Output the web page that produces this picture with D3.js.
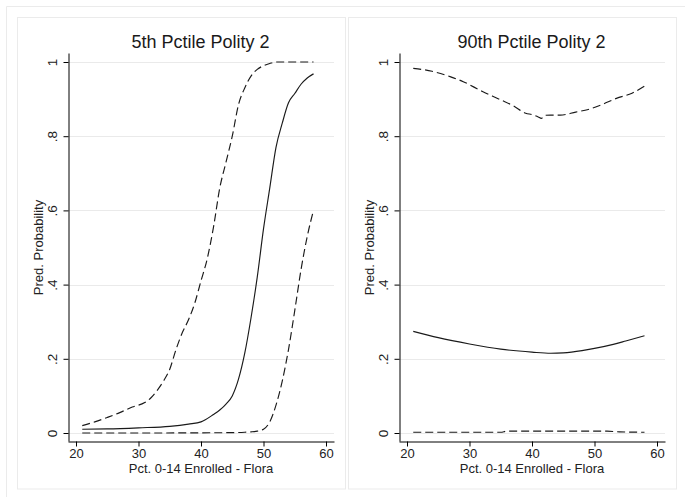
<!DOCTYPE html>
<html>
<head>
<meta charset="utf-8">
<script src="https://cdn.jsdelivr.net/npm/d3@7"></script>
<style>
html,body{margin:0;padding:0;background:#fff;}
svg{display:block;font-family:"Liberation Sans",Arial,sans-serif;}
</style>
</head>
<body>
<svg id="chart" width="685" height="497"></svg>
<script>
// ---- Data ----
const panelTitles = ["5th Pctile Polity 2", "90th Pctile Polity 2"];
const xTicks = [20, 30, 40, 50, 60];
const yTicks = [0, 0.2, 0.4, 0.6, 0.8, 1];
const yTickLabels = ["0", ".2", ".4", ".6", ".8", "1"];
const xLabel = "Pct. 0-14 Enrolled - Flora";
const yLabel = "Pred. Probability";

// Left panel (5th percentile)
const leftX =     [21, 25, 30, 35, 38, 40, 42, 43, 44, 45, 46, 47, 48, 49, 50, 51, 52, 53, 54, 55, 56, 57, 58];
const leftPred =  [0.010, 0.011, 0.014, 0.018, 0.024, 0.030, 0.050, 0.062, 0.078, 0.100, 0.145, 0.215, 0.310, 0.420, 0.550, 0.660, 0.770, 0.835, 0.890, 0.915, 0.940, 0.957, 0.968];
const leftUpX =   [21, 23, 25, 27, 29, 31, 32, 33, 34, 35, 36, 37, 38, 39, 40, 41, 42, 43, 44, 45, 46, 47, 48, 49, 50, 51, 52, 55, 58];
const leftUp =    [0.020, 0.030, 0.042, 0.055, 0.070, 0.082, 0.095, 0.115, 0.140, 0.172, 0.225, 0.270, 0.305, 0.350, 0.410, 0.470, 0.555, 0.660, 0.730, 0.800, 0.885, 0.930, 0.962, 0.980, 0.990, 0.996, 1.000, 1.000, 1.000];
const leftLoX =   [21, 30, 40, 45, 47, 48, 49, 50, 51, 52, 53, 54, 55, 56, 57, 58];
const leftLo =    [0.000, 0.000, 0.0005, 0.001, 0.002, 0.003, 0.005, 0.010, 0.030, 0.075, 0.140, 0.225, 0.330, 0.440, 0.530, 0.600];

// Right panel (90th percentile)
const rightX =    [21, 25, 30, 35, 40, 43, 45, 48, 50, 53, 55, 58];
const rightPred = [0.274, 0.257, 0.240, 0.226, 0.218, 0.215, 0.216, 0.222, 0.228, 0.239, 0.248, 0.262];
const rightUpX =  [21, 24, 27, 29, 32, 35, 37, 39, 40, 41, 41.5, 42, 43, 44.5, 47, 49, 51, 53.5, 56, 58];
const rightUp =   [0.983, 0.975, 0.960, 0.947, 0.921, 0.898, 0.882, 0.862, 0.858, 0.852, 0.848, 0.856, 0.857, 0.857, 0.865, 0.872, 0.884, 0.902, 0.916, 0.935];
const rightLoX =  [21, 35, 36, 45, 52, 54, 58];
const rightLo =   [0.002, 0.002, 0.005, 0.005, 0.005, 0.003, 0.002];

const panels = [
  {title: panelTitles[0], series: [
    {x: leftX, y: leftPred, dash: null},
    {x: leftUpX, y: leftUp, dash: "8,4"},
    {x: leftLoX, y: leftLo, dash: "8,4"}]},
  {title: panelTitles[1], series: [
    {x: rightX, y: rightPred, dash: null},
    {x: rightUpX, y: rightUp, dash: "8,4"},
    {x: rightLoX, y: rightLo, dash: "8,4"}]}
];

// ---- Drawing ----
const svg = d3.select("#chart");
const frameColor = "#ebebeb";

// outer frame lines
svg.append("line").attr("x1", 6.5).attr("x2", 685).attr("y1", 6.5).attr("y2", 6.5)
  .attr("stroke", frameColor);
svg.append("line").attr("x1", 6.5).attr("x2", 6.5).attr("y1", 6.5).attr("y2", 497)
  .attr("stroke", frameColor);

const panelShift = 331;

panels.forEach((p, i) => {
  const off = i * panelShift;
  const g = svg.append("g").attr("transform", `translate(${off},0)`);

  // panel box
  g.append("rect").attr("x", 17.5).attr("y", 17.5).attr("width", 328).attr("height", 471.5)
    .attr("fill", "#fff").attr("stroke", frameColor);

  const plotL = 68, plotR = 334, plotT = 53, plotB = 441;
  const x = d3.scaleLinear().domain([20 - 8 / 6.25, 60 + 8 / 6.25]).range([plotL, plotR]);
  const y = d3.scaleLinear().domain([-8 / 371, 1 + 9 / 371]).range([plotB, plotT]);

  // gridlines
  g.append("g").selectAll("line").data(yTicks).join("line")
    .attr("x1", plotL).attr("x2", plotR)
    .attr("y1", d => Math.round(y(d)) + 0.5).attr("y2", d => Math.round(y(d)) + 0.5)
    .attr("stroke", "#eaeaea").attr("stroke-width", 1);

  // title
  g.append("text").attr("x", 200.5).attr("y", 48).attr("text-anchor", "middle")
    .attr("font-size", 18).attr("fill", "#1a1a1a").text(p.title);

  // x axis
  const xAxis = g.append("g").attr("transform", `translate(0,${plotB + 0.5})`)
    .call(d3.axisBottom(x).tickValues(xTicks).tickSize(5).tickSizeOuter(0).tickPadding(2));
  xAxis.selectAll("text").attr("font-size", 13).attr("fill", "#222")
    .attr("font-family", "'Liberation Sans', Arial, sans-serif");
  xAxis.select(".domain").attr("stroke", "#000");
  xAxis.selectAll(".tick line").attr("stroke", "#000");

  // y axis
  const yAxis = g.append("g").attr("transform", `translate(${plotL + 0.5},0)`)
    .call(d3.axisLeft(y).tickValues(yTicks).tickFormat((d, k) => yTickLabels[k])
      .tickSize(5).tickSizeOuter(0));
  yAxis.select(".domain").attr("stroke", "#000");
  yAxis.selectAll(".tick line").attr("stroke", "#000");
  yAxis.selectAll(".tick text")
    .attr("x", null).attr("dy", null)
    .attr("font-size", 13.5).attr("fill", "#222")
    .attr("font-family", "'Liberation Sans', Arial, sans-serif")
    .attr("text-anchor", "middle")
    .attr("transform", "translate(-12,0) rotate(-90)");

  // axis labels
  g.append("text").attr("x", 201).attr("y", 473).attr("text-anchor", "middle")
    .attr("font-size", 13).attr("fill", "#222").text(xLabel);
  g.append("text").attr("transform", `translate(43,${(y(0) + y(1)) / 2}) rotate(-90)`)
    .attr("text-anchor", "middle").attr("font-size", 13).attr("fill", "#222").text(yLabel);

  // lines
  const line = d3.line().x(d => x(d[0])).y(d => y(d[1])).curve(d3.curveMonotoneX);
  p.series.forEach(s => {
    const pts = s.x.map((v, k) => [v, s.y[k]]);
    g.append("path").datum(pts).attr("d", line)
      .attr("fill", "none").attr("stroke", "#1a1a1a").attr("stroke-width", 1.15)
      .attr("stroke-dasharray", s.dash);
  });
});
</script>
</body>
</html>
